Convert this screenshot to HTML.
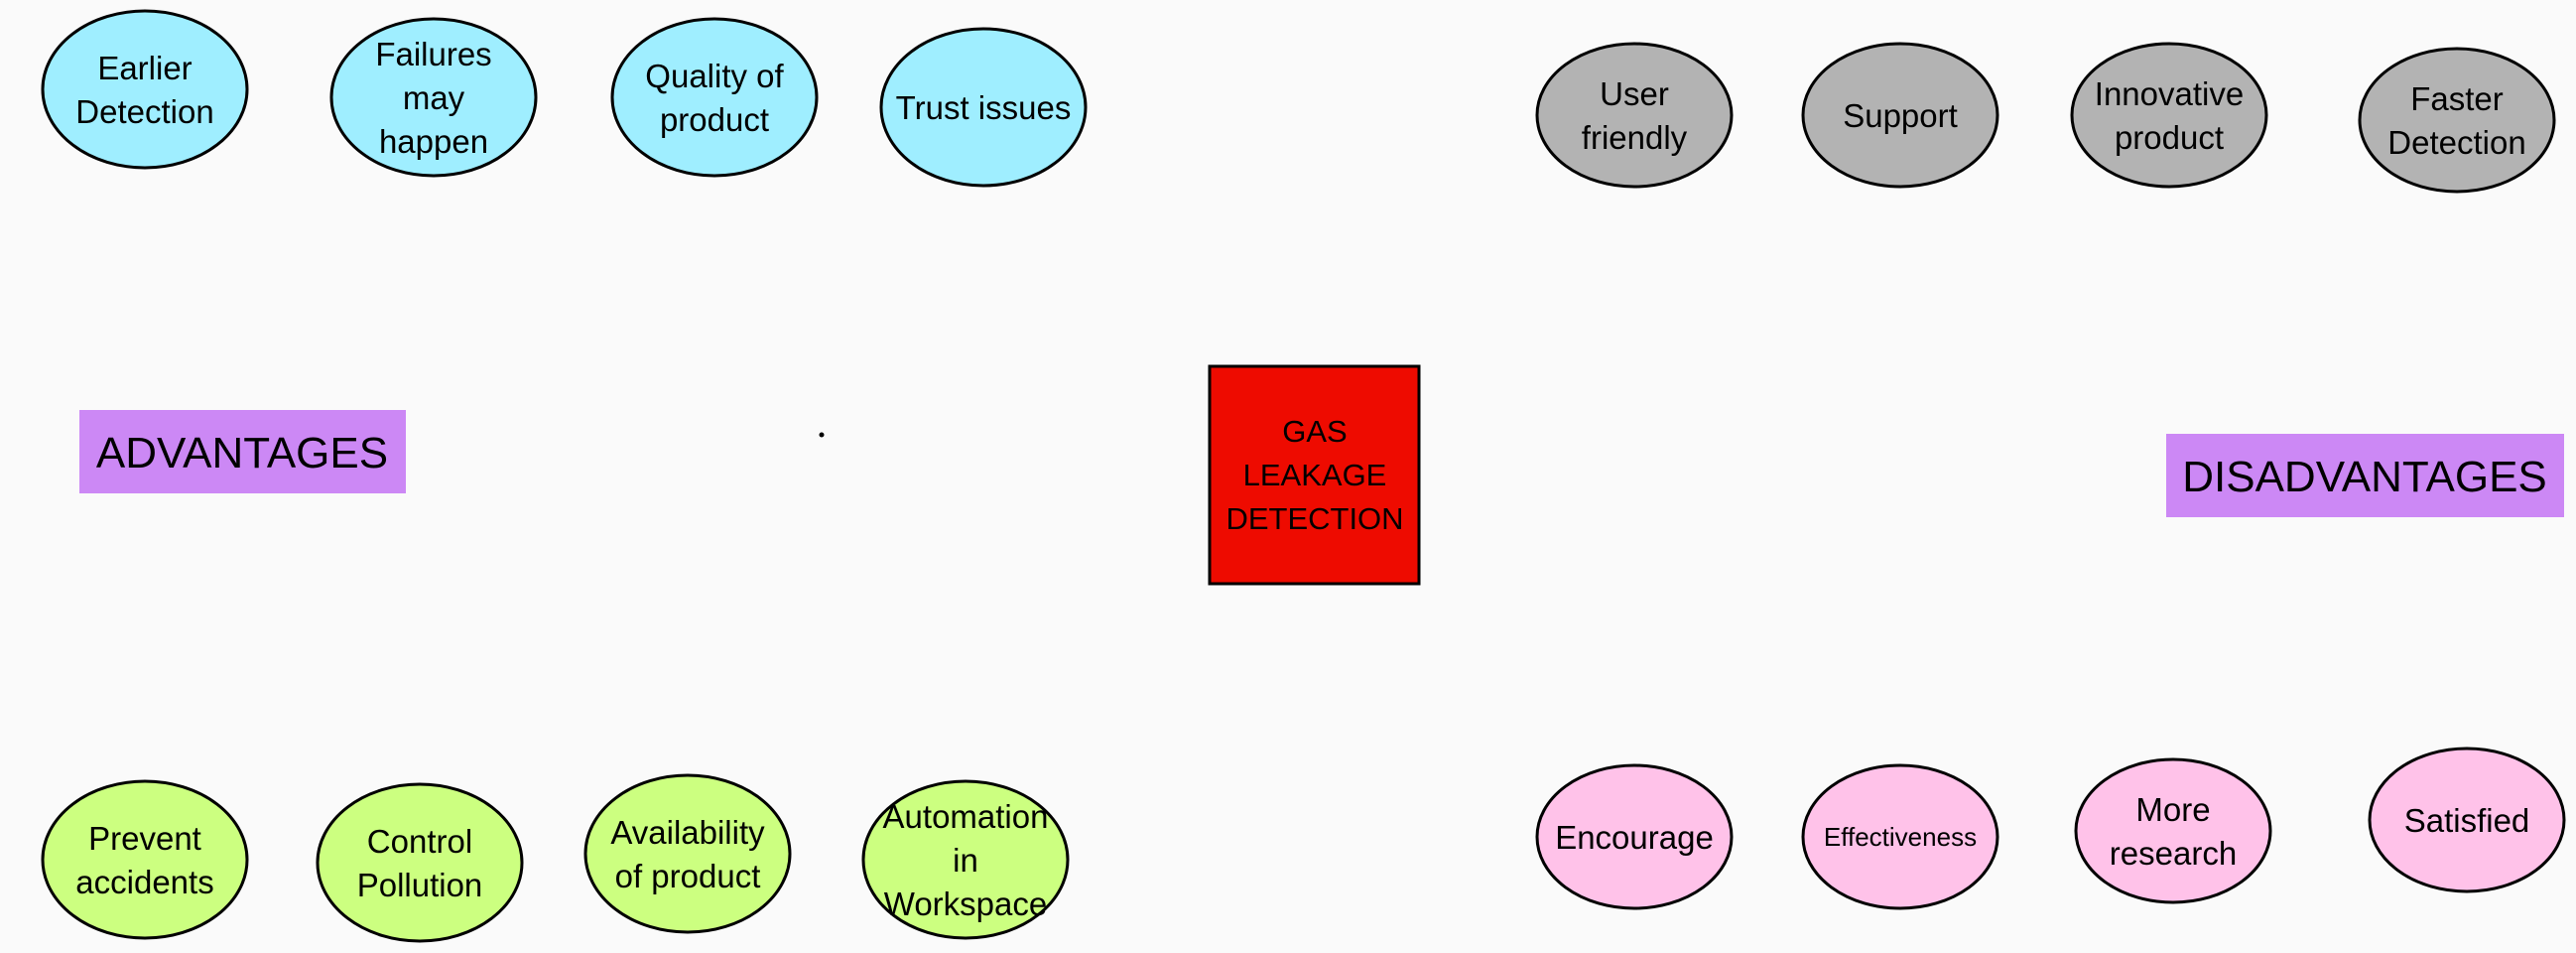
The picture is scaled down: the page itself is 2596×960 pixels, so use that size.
<!DOCTYPE html>
<html><head><meta charset="utf-8"><style>
html,body{margin:0;padding:0;background:#fafafa;}
svg{display:block;}
text{font-family:"Liberation Sans",sans-serif;fill:#000;text-anchor:middle;}
</style></head><body>
<svg width="2596" height="960" viewBox="0 0 2596 960" xmlns="http://www.w3.org/2000/svg">
<rect width="2596" height="960" fill="#fafafa"/>
<g stroke="#000" stroke-width="3">
<ellipse cx="146" cy="90" rx="103" ry="79" fill="#9feeff"/>
<ellipse cx="437" cy="98" rx="103" ry="79" fill="#9feeff"/>
<ellipse cx="720" cy="98" rx="103" ry="79" fill="#9feeff"/>
<ellipse cx="991" cy="108" rx="103" ry="79" fill="#9feeff"/>
<ellipse cx="146" cy="866" rx="103" ry="79" fill="#ccff80"/>
<ellipse cx="423" cy="869" rx="103" ry="79" fill="#ccff80"/>
<ellipse cx="693" cy="860" rx="103" ry="79" fill="#ccff80"/>
<ellipse cx="973" cy="866" rx="103" ry="79" fill="#ccff80"/>
<ellipse cx="1647" cy="116" rx="98" ry="72" fill="#b3b3b3"/>
<ellipse cx="1915" cy="116" rx="98" ry="72" fill="#b3b3b3"/>
<ellipse cx="2186" cy="116" rx="98" ry="72" fill="#b3b3b3"/>
<ellipse cx="2476" cy="121" rx="98" ry="72" fill="#b3b3b3"/>
<ellipse cx="1647" cy="843" rx="98" ry="72" fill="#ffc2e9"/>
<ellipse cx="1915" cy="843" rx="98" ry="72" fill="#ffc2e9"/>
<ellipse cx="2190" cy="837" rx="98" ry="72" fill="#ffc2e9"/>
<ellipse cx="2486" cy="826" rx="98" ry="72" fill="#ffc2e9"/>
<rect x="1219" y="369" width="211" height="219" fill="#ee0b00"/>
</g>
<rect x="80" y="413" width="329" height="84" fill="#cc88f5"/>
<rect x="2183" y="437" width="401" height="84" fill="#cc88f5"/>
<circle cx="828" cy="438" r="2.5" fill="#000"/>
<g font-size="33">
<text x="146" y="80">Earlier</text><text x="146" y="124">Detection</text>
<text x="437" y="66">Failures</text><text x="437" y="110">may</text><text x="437" y="154">happen</text>
<text x="720" y="88">Quality of</text><text x="720" y="132">product</text>
<text x="991" y="120">Trust issues</text>
<text x="146" y="856">Prevent</text><text x="146" y="900">accidents</text>
<text x="423" y="859">Control</text><text x="423" y="903">Pollution</text>
<text x="693" y="850">Availability</text><text x="693" y="894">of product</text>
<text x="973" y="834">Automation</text><text x="973" y="878">in</text><text x="973" y="922">Workspace</text>
<text x="1647" y="106">User</text><text x="1647" y="150">friendly</text>
<text x="1915" y="128">Support</text>
<text x="2186" y="106">Innovative</text><text x="2186" y="150">product</text>
<text x="2476" y="111">Faster</text><text x="2476" y="155">Detection</text>
<text x="1647" y="855">Encourage</text>
<text x="2190" y="827">More</text><text x="2190" y="871">research</text>
<text x="2486" y="838">Satisfied</text>
</g>
<text x="1915" y="852" font-size="26">Effectiveness</text>
<g font-size="31">
<text x="1325" y="445">GAS</text><text x="1325" y="489">LEAKAGE</text><text x="1325" y="533">DETECTION</text>
</g>
<text x="244" y="471" font-size="44">ADVANTAGES</text>
<text x="2383" y="495" font-size="44">DISADVANTAGES</text>
</svg>
</body></html>
